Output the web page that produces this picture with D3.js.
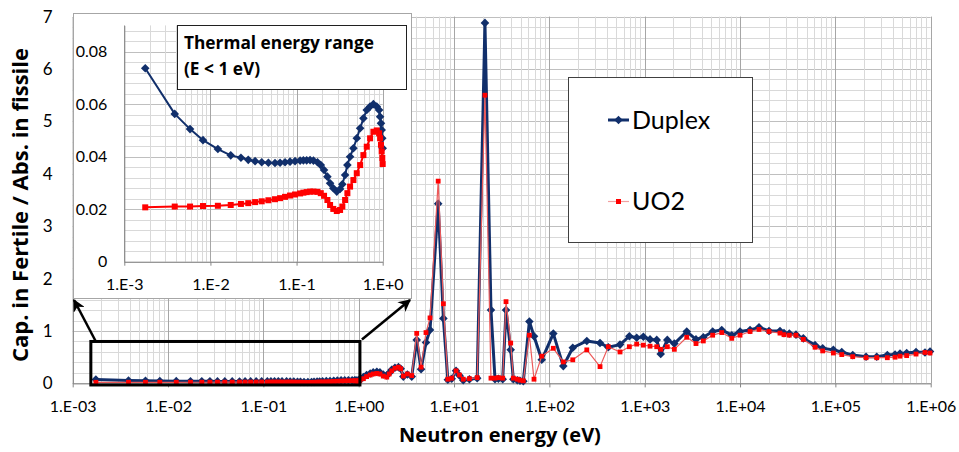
<!DOCTYPE html>
<html>
<head>
<meta charset="utf-8">
<script src="https://cdn.jsdelivr.net/npm/d3@7"></script>
<style>
  body { margin: 0; background: #fff; }
  svg { display: block; }
  text { font-family: Lato, "Liberation Sans", sans-serif; fill: #000; }
  .title { font-family: "Open Sans", Lato, sans-serif; font-weight: bold; }
</style>
</head>
<body>
<svg id="chart" width="959" height="452"></svg>
<script>
// ---- data: thermal range (E < 1 eV) ----
const thermalEnergy = [0.00175, 0.00385, 0.0058, 0.0082, 0.0122, 0.0172, 0.0226, 0.0275, 0.033, 0.0394,
  0.0471, 0.0562, 0.0643, 0.0735, 0.084, 0.096, 0.11, 0.12, 0.131, 0.1435,
  0.157, 0.175, 0.191, 0.2085, 0.228, 0.245, 0.267, 0.293, 0.32, 0.34,
  0.366, 0.389, 0.418, 0.457, 0.5, 0.547, 0.597, 0.653, 0.714, 0.78,
  0.853, 0.908, 0.933, 0.955, 0.973, 0.989, 1.0];
const thermalDuplex = [0.0737, 0.0563, 0.0505, 0.0463, 0.0429, 0.0405, 0.0396, 0.0388, 0.0383, 0.0379,
  0.0377, 0.0376, 0.0377, 0.0379, 0.0381, 0.0383, 0.0385, 0.0386, 0.0386, 0.0387,
  0.0385, 0.0379, 0.0368, 0.0349, 0.0324, 0.0299, 0.0280, 0.0267, 0.0277, 0.0295,
  0.0330, 0.0368, 0.0400, 0.0432, 0.0470, 0.0508, 0.0546, 0.0578, 0.0591, 0.0600,
  0.0591, 0.0578, 0.0552, 0.0527, 0.0502, 0.0470, 0.0432];
const thermalUO2 = [0.0207, 0.0210, 0.0210, 0.0212, 0.0213, 0.0216, 0.0220, 0.0223, 0.0227, 0.0230,
  0.0234, 0.0238, 0.0242, 0.0247, 0.0252, 0.0256, 0.0260, 0.0263, 0.0265, 0.0267,
  0.0267, 0.0266, 0.0261, 0.0251, 0.0235, 0.0216, 0.0201, 0.0193, 0.0197, 0.0210,
  0.0235, 0.0261, 0.0286, 0.0311, 0.0337, 0.0368, 0.0406, 0.0438, 0.0470, 0.0495,
  0.0500, 0.0489, 0.0470, 0.0445, 0.0420, 0.0395, 0.0372];

// ---- data: epithermal and fast range (E > 1 eV) ----
const epiEnergy = [1.03, 1.12, 1.21, 1.32, 1.42, 1.55, 1.67, 1.81, 1.97, 2.09,
  2.22, 2.40, 2.61, 2.76, 2.94, 3.24, 3.60, 4.06, 4.51, 5.08,
  5.60, 6.82, 7.73, 8.61, 9.46, 10.5, 11.4, 12.5, 14.5, 17.5,
  21.1, 24.4, 26.9, 29.2, 32.4, 35.1, 39.3, 41.9, 46.1, 49.2,
  53.3, 61.7, 69.0, 83.2, 110, 140, 176, 247, 340, 415,
  551, 690, 824, 968, 1138, 1337, 1472, 1726, 2046, 2761,
  3451, 4121, 5164, 6427, 8185, 10000, 12740, 15810, 20140, 26240,
  28910, 32890, 38640, 46130, 61240, 73620, 95280, 116700, 152100, 209900,
  271600, 350800, 422700, 476400, 559800, 701500, 871000, 984000];
const epiDuplex = [0.085, 0.12, 0.16, 0.19, 0.21, 0.22, 0.21, 0.17, 0.15, 0.20,
  0.26, 0.30, 0.31, 0.28, 0.13, 0.17, 0.13, 0.83, 0.27, 0.78,
  1.02, 3.43, 1.24, 0.07, 0.09, 0.24, 0.15, 0.06, 0.08, 0.10,
  6.88, 1.40, 0.08, 0.09, 0.08, 1.40, 0.64, 0.08, 0.06, 0.05,
  0.04, 1.18, 0.90, 0.45, 0.95, 0.33, 0.68, 0.81, 0.77, 0.69,
  0.74, 0.90, 0.87, 0.89, 0.84, 0.83, 0.56, 0.83, 0.76, 0.99,
  0.84, 0.88, 0.99, 1.02, 0.92, 0.99, 1.02, 1.07, 1.00, 1.00,
  0.96, 0.95, 0.93, 0.86, 0.73, 0.67, 0.64, 0.60, 0.54, 0.51,
  0.51, 0.54, 0.55, 0.57, 0.58, 0.60, 0.59, 0.61];
const epiUO2 = [0.06, 0.09, 0.13, 0.16, 0.18, 0.19, 0.18, 0.14, 0.12, 0.18,
  0.24, 0.29, 0.31, 0.28, 0.14, 0.18, 0.15, 0.955, 0.31, 0.97,
  1.25, 3.86, 1.52, 0.08, 0.10, 0.24, 0.16, 0.08, 0.09, 0.11,
  5.50, 0.10, 0.10, 0.11, 0.10, 1.56, 0.77, 0.10, 0.08, 0.06,
  0.05, 0.92, 0.08, 0.52, 0.67, 0.41, 0.45, 0.64, 0.32, 0.70,
  0.60, 0.70, 0.75, 0.73, 0.71, 0.70, 0.65, 0.70, 0.65, 0.88,
  0.76, 0.81, 0.92, 0.97, 0.86, 0.92, 0.99, 1.03, 0.99, 0.96,
  0.93, 0.92, 0.92, 0.84, 0.69, 0.62, 0.58, 0.55, 0.51, 0.49,
  0.49, 0.49, 0.50, 0.52, 0.53, 0.56, 0.59, 0.58];

// ---- axis ticks and labels ----
const mainXTicks = [1e-3, 1e-2, 1e-1, 1e0, 1e1, 1e2, 1e3, 1e4, 1e5, 1e6];
const mainXLabels = ["1.E-03", "1.E-02", "1.E-01", "1.E+00", "1.E+01", "1.E+02", "1.E+03", "1.E+04", "1.E+05", "1.E+06"];
const mainYTicks = [0, 1, 2, 3, 4, 5, 6, 7];
const mainYLabels = ["0", "1", "2", "3", "4", "5", "6", "7"];
const insetXTicks = [1e-3, 1e-2, 1e-1, 1e0];
const insetXLabels = ["1.E-3", "1.E-2", "1.E-1", "1.E+0"];
const insetYTicks = [0, 0.02, 0.04, 0.06, 0.08];
const insetYLabels = ["0", "0.02", "0.04", "0.06", "0.08"];
const seriesNames = ["Duplex", "UO2"];

// ---- styles ----
const NAVY = "#112f6b";
const RED = "#ff0000";
const GRID_MINOR = "#d9d9d9";
const GRID_MAJOR = "#a6a6a6";
const GRID_HMAJOR = "#bfbfbf";

const svg = d3.select("#chart");
const isDecade = d => Math.abs(Math.log10(d) - Math.round(Math.log10(d))) < 1e-9;
const diamond = r => `M0,${-r}L${r},0L0,${r}L${-r},0Z`;

// merge the two energy ranges for the full-spectrum plot
const allE = thermalEnergy.concat(epiEnergy);
const allDuplex = thermalDuplex.concat(epiDuplex);
const allUO2 = thermalUO2.concat(epiUO2);

// ================= main chart =================
const M = { left: 72.7, right: 930.7, top: 16.6, bottom: 383.4 };
const x = d3.scaleLog().domain([1e-3, 1e6]).range([M.left, M.right]);
const y = d3.scaleLinear().domain([0, 7]).range([M.bottom, M.top]);

function drawGrid(g, xs, ys, box, yMinorStep, yMajorStep) {
  const ymax = ys.domain()[1];
  const hv = d3.range(0, ymax + 1e-9, yMinorStep);
  g.selectAll(".hg").data(hv).join("line")
    .attr("x1", box.left).attr("x2", box.right)
    .attr("y1", d => Math.round(ys(d)) + 0.5).attr("y2", d => Math.round(ys(d)) + 0.5)
    .attr("stroke", d => Math.abs(d / yMajorStep - Math.round(d / yMajorStep)) < 1e-6 ? GRID_HMAJOR : GRID_MINOR)
    .attr("stroke-width", 1);
  const vv = xs.ticks();
  g.selectAll(".vg").data(vv.filter(d => !isDecade(d))).join("line")
    .attr("y1", box.top).attr("y2", box.bottom)
    .attr("x1", d => Math.round(xs(d)) + 0.5).attr("x2", d => Math.round(xs(d)) + 0.5)
    .attr("stroke", GRID_MINOR).attr("stroke-width", 1);
  g.selectAll(".vgm").data(vv.filter(isDecade)).join("line")
    .attr("y1", box.top).attr("y2", box.bottom)
    .attr("x1", d => Math.round(xs(d)) + 0.5).attr("x2", d => Math.round(xs(d)) + 0.5)
    .attr("stroke", GRID_MAJOR).attr("stroke-width", 1);
}

const gGrid = svg.append("g");
drawGrid(gGrid, x, y, M, 0.2, 1);

// axes
const xAxis = svg.append("g").attr("transform", `translate(0,${M.bottom})`)
  .call(d3.axisBottom(x).tickValues(mainXTicks).tickFormat((d, i) => mainXLabels[i])
    .tickSizeInner(4).tickSizeOuter(0).tickPadding(13));
xAxis.select(".domain").attr("stroke", "#868686");
xAxis.selectAll(".tick line").attr("stroke", "#868686");
xAxis.selectAll("text").style("font-size", "16px").style("font-family", "Lato, sans-serif").attr("fill", "#000");

const yAxis = svg.append("g").attr("transform", `translate(${M.left},0)`)
  .call(d3.axisLeft(y).tickValues(mainYTicks).tickFormat((d, i) => mainYLabels[i])
    .tickSizeInner(0).tickSizeOuter(0).tickPadding(20));
yAxis.select(".domain").attr("stroke", "#868686");
yAxis.selectAll("text").style("font-size", "17px").style("font-family", "Lato, sans-serif").attr("fill", "#000");

// axis titles
svg.append("text").attr("class", "title").attr("x", 500).attr("y", 442).attr("text-anchor", "middle")
  .style("font-size", "20px").text("Neutron energy (eV)");
svg.append("text").attr("class", "title").attr("transform", "translate(28,205) rotate(-90)").attr("text-anchor", "middle")
  .style("font-size", "22px").text("Cap. in Fertile / Abs. in fissile");

// series
function drawSeries(g, xs, ys, E, V, opt) {
  const pts = E.map((e, i) => [xs(e), ys(V[i])]);
  g.append("path").attr("d", d3.line()(pts)).attr("fill", "none")
    .attr("stroke", opt.lineColor).attr("stroke-width", opt.lineWidth).attr("stroke-linejoin", "round");
  if (opt.marker === "diamond") {
    g.selectAll(null).data(pts).join("path")
      .attr("transform", d => `translate(${d[0]},${d[1]})`)
      .attr("d", diamond(opt.size)).attr("fill", opt.markerColor);
  } else {
    g.selectAll(null).data(pts).join("rect")
      .attr("x", d => d[0] - opt.size).attr("y", d => d[1] - opt.size)
      .attr("width", opt.size * 2).attr("height", opt.size * 2).attr("fill", opt.markerColor);
  }
}

const gMain = svg.append("g");
drawSeries(gMain, x, y, allE, allDuplex, { lineColor: NAVY, lineWidth: 3, marker: "diamond", size: 4.3, markerColor: NAVY });
drawSeries(gMain, x, y, allE, allUO2, { lineColor: "#ec5a5a", lineWidth: 1.2, marker: "square", size: 2.4, markerColor: RED });

// ================= legend =================
const leg = svg.append("g");
leg.append("rect").attr("x", 568.5).attr("y", 77.5).attr("width", 184).attr("height", 165)
  .attr("fill", "#fff").attr("stroke", "#404040").attr("stroke-width", 1);
[120, 201.5].forEach((ly, i) => {
  if (i === 0) {
    leg.append("line").attr("x1", 608).attr("x2", 629).attr("y1", ly).attr("y2", ly).attr("stroke", NAVY).attr("stroke-width", 3);
    leg.append("path").attr("transform", `translate(618.5,${ly})`).attr("d", diamond(4.3)).attr("fill", NAVY);
  } else {
    leg.append("line").attr("x1", 608).attr("x2", 629).attr("y1", ly).attr("y2", ly).attr("stroke", "#f2a0a0").attr("stroke-width", 1.2);
    leg.append("rect").attr("x", 616).attr("y", ly - 2.5).attr("width", 5).attr("height", 5).attr("fill", RED);
  }
  leg.append("text").attr("x", 632).attr("y", ly + 8.5).style("font-size", "25px").text(seriesNames[i]);
});

// ================= inset: thermal range =================
const I = { left: 124.3, right: 382.7, top: 25.4, bottom: 261.7 };
const inset = svg.append("g");
inset.append("rect").attr("x", 73.5).attr("y", 13.5).attr("width", 338).attr("height", 285)
  .attr("fill", "#fff").attr("stroke", "#a6a6a6").attr("stroke-width", 1);
const xi = d3.scaleLog().domain([1e-3, 1e0]).range([I.left, I.right]);
const yi = d3.scaleLinear().domain([0, 0.09]).range([I.bottom, I.top]);
drawGrid(inset.append("g"), xi, yi, I, 0.004, 0.02);

const xiAxis = inset.append("g").attr("transform", `translate(0,${I.bottom})`)
  .call(d3.axisBottom(xi).tickValues(insetXTicks).tickFormat((d, i) => insetXLabels[i])
    .tickSizeInner(4).tickSizeOuter(0).tickPadding(13));
xiAxis.select(".domain").attr("stroke", "#868686");
xiAxis.selectAll(".tick line").attr("stroke", "#868686");
xiAxis.selectAll("text").style("font-size", "16px").style("font-family", "Lato, sans-serif").attr("fill", "#000");

const yiAxis = inset.append("g").attr("transform", `translate(${I.left},0)`)
  .call(d3.axisLeft(yi).tickValues(insetYTicks).tickFormat((d, i) => insetYLabels[i])
    .tickSizeInner(0).tickSizeOuter(0).tickPadding(17));
yiAxis.select(".domain").attr("stroke", "#868686");
yiAxis.selectAll("text").style("font-size", "16px").style("font-family", "Lato, sans-serif").attr("fill", "#000");

const gIn = inset.append("g");
drawSeries(gIn, xi, yi, thermalEnergy, thermalDuplex, { lineColor: NAVY, lineWidth: 2, marker: "diamond", size: 4.3, markerColor: NAVY });
drawSeries(gIn, xi, yi, thermalEnergy, thermalUO2, { lineColor: RED, lineWidth: 2, marker: "square", size: 3, markerColor: RED });

// inset caption
inset.append("rect").attr("x", 177.5).attr("y", 25.5).attr("width", 229).attr("height", 64)
  .attr("fill", "#fff").attr("stroke", "#202020").attr("stroke-width", 1);
inset.append("text").attr("class", "title").attr("x", 184).attr("y", 48.5).style("font-size", "17.3px").text("Thermal energy range");
inset.append("text").attr("class", "title").attr("x", 184).attr("y", 75).style("font-size", "17.3px").text("(E < 1 eV)");

// ================= zoom frame and arrows =================
const defs = svg.append("defs");
defs.append("marker").attr("id", "arrow").attr("viewBox", "0 0 10 10").attr("refX", 9).attr("refY", 5)
  .attr("markerWidth", 5).attr("markerHeight", 5).attr("orient", "auto")
  .append("path").attr("d", "M0,0L10,5L0,10L3,5Z").attr("fill", "#000");

const frame = { e0: 1.55e-3, e1: 1.03, v0: -0.03, v1: 0.8 };
const fx0 = x(frame.e0), fx1 = x(frame.e1), fy0 = y(frame.v1), fy1 = y(frame.v0);
svg.append("rect").attr("x", fx0).attr("y", fy0).attr("width", fx1 - fx0).attr("height", fy1 - fy0)
  .attr("fill", "none").attr("stroke", "#000").attr("stroke-width", 3);
svg.append("line").attr("x1", fx0 + 5).attr("y1", fy0).attr("x2", 74).attr("y2", 300)
  .attr("stroke", "#000").attr("stroke-width", 2.5).attr("marker-end", "url(#arrow)");
svg.append("line").attr("x1", fx1 + 2).attr("y1", fy0 - 2).attr("x2", 410).attr("y2", 300)
  .attr("stroke", "#000").attr("stroke-width", 2.5).attr("marker-end", "url(#arrow)");
</script>
</body>
</html>
